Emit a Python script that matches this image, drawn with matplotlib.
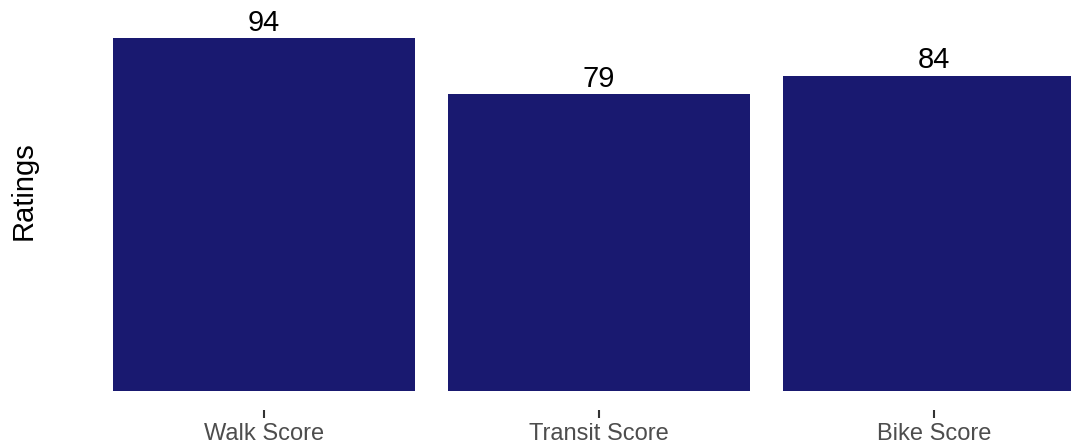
import matplotlib
matplotlib.use("Agg")
import matplotlib.pyplot as plt

categories = ["Walk Score", "Transit Score", "Bike Score"]
values = [94, 79, 84]

plt.rcParams['font.family'] = ['Liberation Sans', 'DejaVu Sans']

W, H = 1071, 444
fig = plt.figure(figsize=(W / 100, H / 100), dpi=100)
# axes in pixel coords: left 63, right 1135 (cropped), top 20, bottom 410
left, right, top, bottom = 63, 1135, 20, 410
ax = fig.add_axes([left / W, 1 - bottom / H, (right - left) / W, (bottom - top) / H])

x = list(range(len(categories)))
ax.bar(x, values, width=0.9, color="#191970")
for xi, v in zip(x, values):
    ax.text(xi, v + 0.3, str(v), ha="center", va="bottom", fontsize=21, color="black")

ax.set_xlim(-0.6, 2.6)
ax.set_ylim(-5.06, 98.8)
ax.set_xticks(x)
ax.set_xticklabels(categories, fontsize=17, color="#4d4d4d")
ax.tick_params(axis="x", length=6, width=1.5, color="#333333", pad=3)
ax.set_yticks([])
for s in ax.spines.values():
    s.set_visible(False)
fig.text(24 / W, 1 - 191 / H, "Ratings", rotation=90, ha="center", va="center", fontsize=21)

fig.savefig("out.png", dpi=100)
